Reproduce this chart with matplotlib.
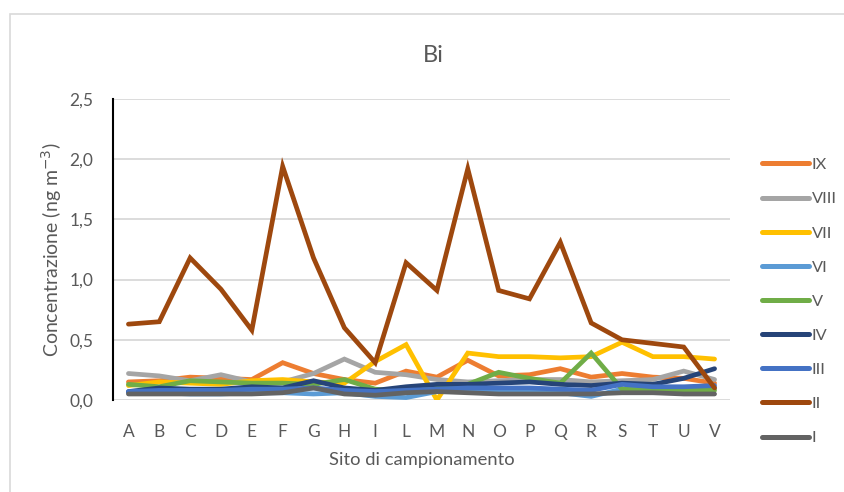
import matplotlib
matplotlib.use("Agg")
import matplotlib.pyplot as plt
from matplotlib.patches import Rectangle
from matplotlib.ticker import FuncFormatter

plt.rcParams['font.family'] = ['Lato', 'DejaVu Sans']

# sampling sites
sites = ['A', 'B', 'C', 'D', 'E', 'F', 'G', 'H', 'I', 'L',
         'M', 'N', 'O', 'P', 'Q', 'R', 'S', 'T', 'U', 'V']

# campaign series (ng m-3)
s_IX = [0.15, 0.16, 0.19, 0.18, 0.17, 0.31, 0.22, 0.17, 0.14, 0.24,
        0.19, 0.33, 0.20, 0.21, 0.26, 0.19, 0.22, 0.19, 0.18, 0.14]
s_VIII = [0.22, 0.20, 0.16, 0.21, 0.15, 0.15, 0.22, 0.34, 0.23, 0.21,
          0.17, 0.15, 0.16, 0.17, 0.17, 0.15, 0.16, 0.17, 0.24, 0.17]
s_VII = [0.12, 0.15, 0.14, 0.13, 0.16, 0.17, 0.15, 0.14, 0.32, 0.46,
         0.00, 0.39, 0.36, 0.36, 0.35, 0.36, 0.48, 0.36, 0.36, 0.34]
s_VI = [0.06, 0.06, 0.05, 0.05, 0.06, 0.06, 0.05, 0.06, 0.03, 0.02,
        0.07, 0.08, 0.08, 0.07, 0.06, 0.03, 0.09, 0.10, 0.10, 0.10]
s_V = [0.13, 0.11, 0.16, 0.15, 0.14, 0.14, 0.13, 0.17, 0.09, 0.07,
       0.10, 0.13, 0.23, 0.18, 0.14, 0.39, 0.09, 0.08, 0.08, 0.08]
s_IV = [0.07, 0.10, 0.09, 0.09, 0.11, 0.10, 0.16, 0.10, 0.08, 0.11,
        0.13, 0.13, 0.14, 0.15, 0.13, 0.12, 0.14, 0.13, 0.18, 0.26]
s_III = [0.07, 0.08, 0.08, 0.08, 0.09, 0.09, 0.10, 0.08, 0.07, 0.08,
         0.09, 0.10, 0.10, 0.10, 0.09, 0.08, 0.13, 0.11, 0.11, 0.12]
s_II = [0.63, 0.65, 1.18, 0.92, 0.58, 1.94, 1.18, 0.60, 0.31, 1.14,
        0.91, 1.92, 0.91, 0.84, 1.31, 0.64, 0.50, 0.47, 0.44, 0.10]
s_I = [0.05, 0.05, 0.05, 0.05, 0.05, 0.06, 0.10, 0.05, 0.04, 0.06,
       0.07, 0.06, 0.05, 0.05, 0.05, 0.05, 0.06, 0.06, 0.05, 0.05]

labels = ['IX', 'VIII', 'VII', 'VI', 'V', 'IV', 'III', 'II', 'I']
series = [s_IX, s_VIII, s_VII, s_VI, s_V, s_IV, s_III, s_II, s_I]
colors = ['#ED7D31', '#A5A5A5', '#FFC000', '#5B9BD5', '#70AD47',
          '#264478', '#4472C4', '#9E480E', '#636363']

fig = plt.figure(figsize=(8.44, 4.92), dpi=100)
ax = fig.add_axes([113 / 844, 92 / 492, 617 / 844, 301 / 492])

x = range(len(sites))
for i, (lab, vals, c) in enumerate(zip(labels, series, colors)):
    ax.plot(x, vals, color=c, lw=3.4, label=lab, zorder=3 + i,
            solid_capstyle='round', solid_joinstyle='miter')

ax.set_xlim(-0.5, len(sites) - 0.5)
ax.set_ylim(0, 2.5)
ax.set_yticks([0, 0.5, 1.0, 1.5, 2.0, 2.5])
ax.yaxis.set_major_formatter(FuncFormatter(lambda v, p: f"{v:.1f}".replace('.', ',')))
ax.set_xticks(list(x))
ax.set_xticklabels(sites)
ax.grid(axis='y', color='#d9d9d9', lw=1.3)
ax.set_axisbelow(True)
for s in ['top', 'right', 'bottom']:
    ax.spines[s].set_visible(False)
ax.spines['left'].set_color('black')
ax.spines['left'].set_linewidth(1.5)
ax.tick_params(length=0, colors='#595959', labelsize=12.5)
ax.tick_params(axis='x', pad=17)
ax.tick_params(axis='y', pad=14)

ax.set_xlabel('Sito di campionamento', color='#595959', fontsize=13.2, labelpad=9)
ax.set_ylabel('Concentrazione (ng m$^{-3}$)', color='#595959', fontsize=14, labelpad=4)
fig.text(433 / 844, 1 - 55 / 492, 'Bi', ha='center', va='center',
         fontsize=17, color='#595959')

leg = fig.legend(loc='upper left', bbox_to_anchor=(747 / 844, 1 - 143 / 492),
                 frameon=False, fontsize=11.8, handlelength=2.9, handletextpad=0.15,
                 labelspacing=1.2, labelcolor='#595959')
for h in leg.get_lines():
    h.set_linewidth(3.6)
    h.set_solid_capstyle('round')

fig.patches.append(Rectangle((10 / 844, -0.01), 1.0, 1 - 14 / 492 + 0.01,
                             transform=fig.transFigure, fill=False,
                             edgecolor='#d9d9d9', lw=1.2))

fig.savefig('out.png', dpi=100)
